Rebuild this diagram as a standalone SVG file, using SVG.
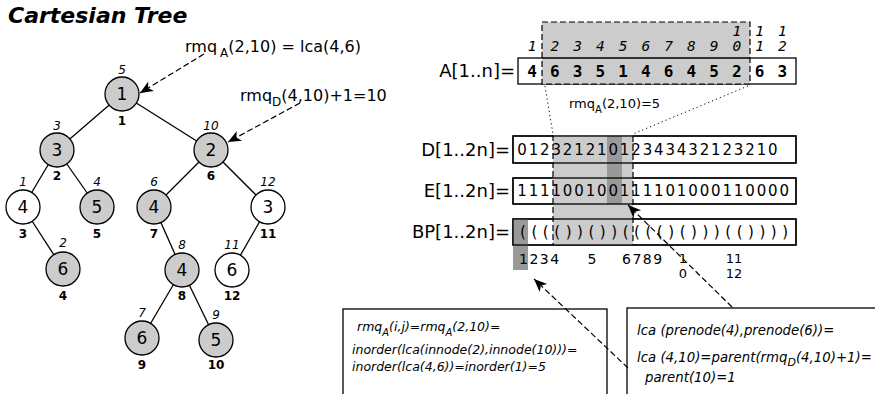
<svg xmlns="http://www.w3.org/2000/svg" width="875" height="394" viewBox="0 0 875 394">
<style>
text{font-family:"DejaVu Sans","Liberation Sans",sans-serif;fill:#000}
.nd{stroke:#000;stroke-width:1.3;fill:#cccccc}
.nw{stroke:#000;stroke-width:1.3;fill:#fff}
.lb{font-size:17px;text-anchor:middle}
.it{font-size:12px;font-style:italic;text-anchor:middle}
.bd{font-size:12px;font-weight:bold;text-anchor:middle}
.edge{stroke:#000;stroke-width:1.3}
.dash{stroke:#000;stroke-width:1.2;stroke-dasharray:6,3;fill:none}
.dot{stroke:#000;stroke-width:1;stroke-dasharray:1.2,3;fill:none}
.box{stroke:#000;stroke-width:1.3;fill:#fff}
.bo{stroke:#000;stroke-width:1.3;fill:none}
.arr{font-size:18px;text-anchor:end}
.av{font-family:"DejaVu Sans Mono",monospace;font-weight:bold;font-size:16px;text-anchor:middle}
.ai{font-family:"DejaVu Sans Mono",monospace;font-style:italic;font-size:14.5px;text-anchor:middle}
.seq{font-size:15px;text-anchor:middle}
.num{font-size:14px}
.nf{font-size:13px;text-anchor:middle}
.note{font-size:16px}
.ib{font-style:italic}
</style>
<defs>
<marker id="ah" viewBox="-14 -7 16 14" markerWidth="16" markerHeight="14" refX="0" refY="0" orient="auto" markerUnits="userSpaceOnUse">
<path d="M0,0 L-13,-5.5 L-9.5,0 L-13,5.5 Z" fill="#000" stroke="none"/>
</marker>
</defs>
<text x="8" y="23" style="font-size:22px;font-weight:bold;font-style:italic">Cartesian Tree</text>

<g id="connectors">
<line class="edge" x1="122" y1="94" x2="57" y2="150"/>
<line class="edge" x1="122" y1="94" x2="211" y2="150"/>
<line class="edge" x1="57" y1="150" x2="23" y2="207"/>
<line class="edge" x1="57" y1="150" x2="97" y2="207"/>
<line class="edge" x1="211" y1="150" x2="154" y2="207"/>
<line class="edge" x1="211" y1="150" x2="268" y2="207"/>
<line class="edge" x1="23" y1="207" x2="63" y2="269"/>
<line class="edge" x1="154" y1="207" x2="182" y2="270"/>
<line class="edge" x1="268" y1="207" x2="232" y2="270"/>
<line class="edge" x1="182" y1="270" x2="142" y2="338"/>
<line class="edge" x1="182" y1="270" x2="216" y2="340"/>
</g>

<g id="n1"><circle class="nd" cx="122" cy="94" r="17"/><text class="lb" x="122" y="100">1</text><text class="it" x="122" y="74">5</text><text class="bd" x="122" y="125">1</text></g>
<g id="n2"><circle class="nd" cx="57" cy="150" r="17"/><text class="lb" x="57" y="156">3</text><text class="it" x="57" y="130">3</text><text class="bd" x="57" y="180">2</text></g>
<g id="n3"><circle class="nd" cx="211" cy="150" r="17"/><text class="lb" x="211" y="156">2</text><text class="it" x="211" y="130">10</text><text class="bd" x="211" y="180">6</text></g>
<g id="n4"><circle class="nw" cx="23" cy="207" r="17"/><text class="lb" x="23" y="213">4</text><text class="it" x="23" y="186">1</text><text class="bd" x="23" y="238">3</text></g>
<g id="n5"><circle class="nd" cx="97" cy="207" r="17"/><text class="lb" x="97" y="213">5</text><text class="it" x="97" y="186">4</text><text class="bd" x="97" y="238">5</text></g>
<g id="n6"><circle class="nd" cx="154" cy="207" r="17"/><text class="lb" x="154" y="213">4</text><text class="it" x="154" y="186">6</text><text class="bd" x="154" y="238">7</text></g>
<g id="n7"><circle class="nw" cx="268" cy="207" r="17"/><text class="lb" x="268" y="213">3</text><text class="it" x="268" y="186">12</text><text class="bd" x="268" y="238">11</text></g>
<g id="n8"><circle class="nd" cx="63" cy="269" r="17"/><text class="lb" x="63" y="275">6</text><text class="it" x="63" y="247">2</text><text class="bd" x="63" y="300">4</text></g>
<g id="n9"><circle class="nd" cx="182" cy="270" r="17"/><text class="lb" x="182" y="276">4</text><text class="it" x="182" y="249">8</text><text class="bd" x="182" y="300">8</text></g>
<g id="n10"><circle class="nw" cx="232" cy="270" r="17"/><text class="lb" x="232" y="276">6</text><text class="it" x="232" y="249">11</text><text class="bd" x="232" y="300">12</text></g>
<g id="n11"><circle class="nd" cx="142" cy="338" r="17"/><text class="lb" x="142" y="344">6</text><text class="it" x="142" y="317">7</text><text class="bd" x="142" y="369">9</text></g>
<g id="n12"><circle class="nd" cx="216" cy="340" r="17"/><text class="lb" x="216" y="346">5</text><text class="it" x="216" y="319">9</text><text class="bd" x="216" y="369">10</text></g>

<g id="notes">
<text class="note" x="185" y="52">rmq<tspan dx="3" dy="5" style="font-size:12px">A</tspan><tspan dy="-5">(2,10) = lca(4,6)</tspan></text>
<text class="note" x="240" y="101">rmq<tspan dy="5" style="font-size:12px">D</tspan><tspan dy="-5">(4,10)+1=10</tspan></text>
</g>

<g id="arrayA">
<text class="arr" x="515" y="77">A[1..n]=</text>
<rect class="box" x="518" y="58" width="278" height="26"/>
<rect x="542" y="22" width="208" height="62" fill="#cccccc" stroke="#000" stroke-width="1.2" stroke-dasharray="6,3"/>
<line x1="542" y1="58" x2="750" y2="58" stroke="#000" stroke-width="1.3"/>
<text class="av" y="77"><tspan x="532">4</tspan><tspan x="554.75">6</tspan><tspan x="577.5">3</tspan><tspan x="600.25">5</tspan><tspan x="623">1</tspan><tspan x="645.75">4</tspan><tspan x="668.5">6</tspan><tspan x="691.25">4</tspan><tspan x="714">5</tspan><tspan x="736.75">2</tspan><tspan x="759.5">6</tspan><tspan x="782.25">3</tspan></text>
<text class="ai" y="51"><tspan x="532">1</tspan><tspan x="554.75">2</tspan><tspan x="577.5">3</tspan><tspan x="600.25">4</tspan><tspan x="623">5</tspan><tspan x="645.75">6</tspan><tspan x="668.5">7</tspan><tspan x="691.25">8</tspan><tspan x="714">9</tspan><tspan x="736.75">0</tspan><tspan x="759.5">1</tspan><tspan x="782.25">2</tspan></text>
<text class="ai" y="36"><tspan x="736.75">1</tspan><tspan x="759.5">1</tspan><tspan x="782.25">1</tspan></text>
<line class="dot" x1="545" y1="86" x2="553" y2="134"/>
<line class="dot" x1="748" y1="86" x2="633" y2="134"/>
<text x="569" y="108" style="font-size:13px">rmq<tspan dy="5" style="font-size:10px">A</tspan><tspan dy="-5">(2,10)=5</tspan></text>
</g>

<g id="arrays">
<text class="arr" x="510" y="156">D[1..2n]=</text>
<text class="arr" x="510" y="197">E[1..2n]=</text>
<text class="arr" x="510" y="238">BP[1..2n]=</text>
<rect class="box" x="513" y="136" width="283" height="27"/>
<rect class="box" x="513" y="178" width="283" height="26"/>
<rect class="box" x="513" y="219" width="283" height="26"/>
<rect x="553" y="135" width="80" height="110" fill="#cccccc"/>
<rect x="607" y="136" width="15" height="68" fill="#999999"/>
<rect x="513" y="219" width="15" height="51" fill="#999999"/>
<rect class="bo" x="513" y="136" width="283" height="27"/>
<rect class="bo" x="513" y="178" width="283" height="26"/>
<rect class="bo" x="513" y="219" width="283" height="26"/>
<line class="dash" x1="553" y1="135" x2="553" y2="245"/>
<line class="dash" x1="633" y1="136" x2="633" y2="245"/>
<text class="seq" y="155"><tspan x="522">0</tspan><tspan x="533.4">1</tspan><tspan x="544.8">2</tspan><tspan x="556.2">3</tspan><tspan x="567.6">2</tspan><tspan x="579">1</tspan><tspan x="590.4">2</tspan><tspan x="601.8">1</tspan><tspan x="613.2">0</tspan><tspan x="624.6">1</tspan><tspan x="636">2</tspan><tspan x="647.4">3</tspan><tspan x="658.8">4</tspan><tspan x="670.2">3</tspan><tspan x="681.6">4</tspan><tspan x="693">3</tspan><tspan x="704.4">2</tspan><tspan x="715.8">1</tspan><tspan x="727.2">2</tspan><tspan x="738.6">3</tspan><tspan x="750">2</tspan><tspan x="761.4">1</tspan><tspan x="772.8">0</tspan></text>
<text class="seq" y="196"><tspan x="522">1</tspan><tspan x="533.4">1</tspan><tspan x="544.8">1</tspan><tspan x="556.2">1</tspan><tspan x="567.6">0</tspan><tspan x="579">0</tspan><tspan x="590.4">1</tspan><tspan x="601.8">0</tspan><tspan x="613.2">0</tspan><tspan x="624.6">1</tspan><tspan x="636">1</tspan><tspan x="647.4">1</tspan><tspan x="658.8">1</tspan><tspan x="670.2">0</tspan><tspan x="681.6">1</tspan><tspan x="693">0</tspan><tspan x="704.4">0</tspan><tspan x="715.8">0</tspan><tspan x="727.2">1</tspan><tspan x="738.6">1</tspan><tspan x="750">0</tspan><tspan x="761.4">0</tspan><tspan x="772.8">0</tspan><tspan x="784.2">0</tspan></text>
<text class="seq" y="237"><tspan x="523">(</tspan><tspan x="534.4">(</tspan><tspan x="545.8">(</tspan><tspan x="557.2">(</tspan><tspan x="568.6">)</tspan><tspan x="580">)</tspan><tspan x="591.4">(</tspan><tspan x="602.8">)</tspan><tspan x="614.2">)</tspan><tspan x="625.6">(</tspan><tspan x="637">(</tspan><tspan x="648.4">(</tspan><tspan x="659.8">(</tspan><tspan x="671.2">)</tspan><tspan x="682.6">(</tspan><tspan x="694">)</tspan><tspan x="705.4">)</tspan><tspan x="716.8">)</tspan><tspan x="728.2">(</tspan><tspan x="739.6">(</tspan><tspan x="751">)</tspan><tspan x="762.4">)</tspan><tspan x="773.8">)</tspan><tspan x="785.2">)</tspan></text>
<text class="num" x="519" y="264" style="letter-spacing:1.5px">1234</text>
<text class="num" x="592" y="264" text-anchor="middle">5</text>
<text class="num" x="622" y="264" style="letter-spacing:1.5px">6789</text>
<text class="nf" x="683" y="263">1</text>
<text class="nf" x="683" y="278">0</text>
<text class="nf" x="734" y="263">11</text>
<text class="nf" x="734" y="278">12</text>
</g>

<g id="boxL">
<rect class="box" x="343" y="309" width="264" height="100"/>
<text class="ib" x="357" y="331" style="font-size:12.5px">rmq<tspan dy="5" style="font-size:10px">A</tspan><tspan dy="-5">(i,j)=rmq</tspan><tspan dy="5" style="font-size:10px">A</tspan><tspan dy="-5">(2,10)=</tspan></text>
<text class="ib" x="352" y="354" style="font-size:12.5px">inorder(lca(innode(2),innode(10)))=</text>
<text class="ib" x="352" y="371" style="font-size:12.5px">inorder(lca(4,6))=inorder(1)=5</text>
</g>
<g id="boxR">
<rect class="box" x="627" y="308" width="260" height="100"/>
<text class="ib" x="637" y="335" style="font-size:13.3px">lca (prenode(4),prenode(6))=</text>
<text class="ib" x="637" y="362" style="font-size:13.3px">lca (4,10)=parent(rmq<tspan dy="4" style="font-size:11px">D</tspan><tspan dy="-4">(4,10)+1)=</tspan></text>
<text class="ib" x="645" y="382" style="font-size:13.3px">parent(10)=1</text>
</g>

<g id="arrows">
<line class="dash" x1="204" y1="54" x2="140" y2="93" marker-end="url(#ah)"/>
<line class="dash" x1="300" y1="103" x2="228" y2="142" marker-end="url(#ah)"/>
<line class="dash" x1="732" y1="307" x2="628" y2="205" marker-end="url(#ah)"/>
<line class="dash" x1="628" y1="368" x2="534" y2="279" marker-end="url(#ah)"/>
</g>
</svg>
